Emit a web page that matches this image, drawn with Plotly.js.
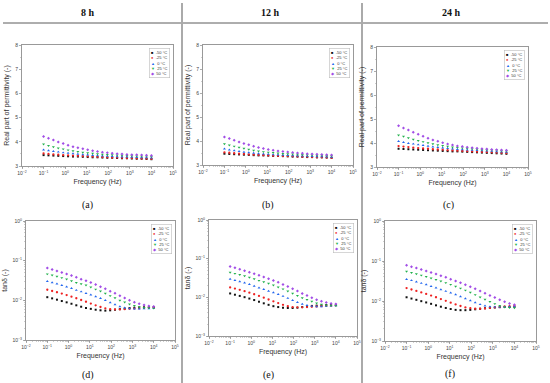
<!DOCTYPE html>
<html><head><meta charset="utf-8">
<script src="https://cdn.plot.ly/plotly-3.0.1.min.js"></script>
<style>html,body{margin:0;padding:0;background:#fff}#chart{width:550px;height:383px}</style>
</head><body><div id="chart"></div>
<script>
// ---------- DATA ----------
var freq = [0.1, 0.1687, 0.2848, 0.4806, 0.8111, 1.369, 2.310, 3.899, 6.579, 11.10, 18.74, 31.62, 53.37, 90.07, 152.0, 256.5, 432.9, 730.6, 1233, 2081, 3511, 5926, 10000];
var temps = ["-50 °C", "-25 °C", "0 °C", "25 °C", "50 °C"];
var headers = ["8 h", "12 h", "24 h"];
var panelLabels = ["(a)", "(b)", "(c)", "(d)", "(e)", "(f)"];
var xTickVals = [0.01, 0.1, 1, 10, 100, 1000, 10000, 100000];
var xTickText = ["10<sup>−2</sup>", "10<sup>−1</sup>", "10<sup>0</sup>", "10<sup>1</sup>", "10<sup>2</sup>", "10<sup>3</sup>", "10<sup>4</sup>", "10<sup>5</sup>"];
var tanTickVals = [0.001, 0.01, 0.1, 1];
var tanTickText = ["10<sup>−3</sup>", "10<sup>−2</sup>", "10<sup>−1</sup>", "10<sup>0</sup>"];

// Real part of permittivity, 8 h
var eps8_m50 = [3.45,3.44,3.43,3.42,3.41,3.40,3.39,3.39,3.38,3.37,3.36,3.36,3.35,3.34,3.34,3.33,3.32,3.32,3.31,3.30,3.30,3.29,3.28];
var eps8_m25 = [3.52,3.50,3.48,3.47,3.45,3.44,3.43,3.42,3.41,3.40,3.39,3.38,3.37,3.36,3.35,3.35,3.34,3.33,3.33,3.32,3.31,3.31,3.30];
var eps8_0   = [3.67,3.64,3.61,3.58,3.55,3.53,3.51,3.49,3.47,3.46,3.44,3.43,3.42,3.41,3.40,3.39,3.38,3.38,3.37,3.36,3.35,3.35,3.34];
var eps8_25  = [3.90,3.84,3.79,3.74,3.70,3.66,3.62,3.59,3.56,3.54,3.52,3.50,3.48,3.47,3.46,3.45,3.44,3.43,3.42,3.41,3.40,3.40,3.39];
var eps8_50  = [4.22,4.15,4.07,3.99,3.93,3.86,3.80,3.75,3.71,3.67,3.63,3.60,3.57,3.55,3.53,3.51,3.50,3.48,3.47,3.46,3.45,3.44,3.43];
// 12 h
var eps12_m50 = [3.47,3.46,3.45,3.44,3.43,3.42,3.41,3.40,3.40,3.39,3.38,3.37,3.37,3.36,3.35,3.35,3.34,3.33,3.33,3.32,3.32,3.31,3.30];
var eps12_m25 = [3.53,3.51,3.49,3.47,3.46,3.44,3.43,3.42,3.41,3.40,3.39,3.38,3.37,3.37,3.36,3.35,3.34,3.34,3.33,3.32,3.32,3.31,3.30];
var eps12_0   = [3.67,3.63,3.60,3.57,3.54,3.52,3.50,3.48,3.46,3.45,3.43,3.42,3.41,3.40,3.39,3.38,3.38,3.37,3.36,3.35,3.35,3.34,3.33];
var eps12_25  = [3.88,3.83,3.78,3.73,3.69,3.65,3.61,3.58,3.55,3.53,3.51,3.49,3.47,3.46,3.45,3.44,3.43,3.42,3.41,3.40,3.40,3.39,3.38];
var eps12_50  = [4.17,4.10,4.03,3.96,3.90,3.84,3.78,3.73,3.69,3.65,3.61,3.58,3.56,3.54,3.52,3.50,3.49,3.47,3.46,3.45,3.44,3.43,3.42];
// 24 h
var eps24_m50 = [3.76,3.75,3.74,3.73,3.72,3.71,3.70,3.69,3.68,3.67,3.66,3.65,3.65,3.64,3.63,3.62,3.61,3.60,3.59,3.58,3.57,3.56,3.55];
var eps24_m25 = [3.87,3.85,3.83,3.81,3.79,3.77,3.76,3.74,3.73,3.72,3.70,3.69,3.68,3.67,3.66,3.65,3.64,3.63,3.62,3.61,3.60,3.59,3.58];
var eps24_0   = [4.07,4.03,3.99,3.96,3.93,3.90,3.87,3.84,3.82,3.80,3.78,3.76,3.74,3.73,3.71,3.70,3.69,3.68,3.67,3.66,3.64,3.63,3.62];
var eps24_25  = [4.33,4.27,4.21,4.15,4.10,4.05,4.00,3.96,3.92,3.89,3.86,3.83,3.81,3.79,3.77,3.75,3.74,3.72,3.71,3.70,3.69,3.67,3.66];
var eps24_50  = [4.72,4.63,4.54,4.45,4.36,4.28,4.20,4.13,4.07,4.01,3.96,3.92,3.88,3.85,3.82,3.80,3.78,3.76,3.75,3.73,3.72,3.71,3.70];

// tan delta, 8 h
var tan8_m50 = [0.0120,0.0112,0.0104,0.0096,0.0089,0.0082,0.0075,0.0069,0.0064,0.0061,0.0058,0.0056,0.0055,0.0056,0.0058,0.0060,0.0062,0.0064,0.0065,0.0066,0.0067,0.0067,0.0068];
var tan8_m25 = [0.0185,0.0172,0.0160,0.0148,0.0136,0.0124,0.0113,0.0102,0.0092,0.0083,0.0075,0.0068,0.0063,0.0060,0.0059,0.0059,0.0060,0.0061,0.0062,0.0063,0.0064,0.0065,0.0066];
var tan8_0   = [0.0300,0.0280,0.0260,0.0240,0.0220,0.0200,0.0180,0.0165,0.0150,0.0138,0.0125,0.0112,0.0100,0.0088,0.0078,0.0070,0.0065,0.0062,0.0061,0.0061,0.0062,0.0062,0.0063];
var tan8_25  = [0.0460,0.0430,0.0400,0.0370,0.0340,0.0310,0.0280,0.0260,0.0240,0.0215,0.0190,0.0170,0.0150,0.0130,0.0115,0.0100,0.0090,0.0080,0.0073,0.0068,0.0065,0.0064,0.0063];
var tan8_50  = [0.0650,0.0600,0.0550,0.0500,0.0460,0.0420,0.0380,0.0340,0.0310,0.0280,0.0250,0.0220,0.0195,0.0170,0.0150,0.0130,0.0115,0.0100,0.0090,0.0082,0.0076,0.0072,0.0070];
// 12 h
var tan12_m50 = [0.0126,0.0117,0.0109,0.0101,0.0093,0.0085,0.0077,0.0070,0.0064,0.0059,0.0056,0.0054,0.0053,0.0053,0.0054,0.0056,0.0058,0.0060,0.0061,0.0062,0.0063,0.0063,0.0063];
var tan12_m25 = [0.0180,0.0168,0.0156,0.0144,0.0132,0.0120,0.0109,0.0098,0.0088,0.0079,0.0071,0.0064,0.0059,0.0056,0.0055,0.0055,0.0056,0.0057,0.0058,0.0059,0.0060,0.0061,0.0062];
var tan12_0   = [0.0296,0.0276,0.0256,0.0236,0.0216,0.0196,0.0177,0.0161,0.0146,0.0133,0.0120,0.0107,0.0095,0.0084,0.0074,0.0067,0.0062,0.0059,0.0058,0.0058,0.0059,0.0060,0.0061];
var tan12_25  = [0.0440,0.0412,0.0384,0.0356,0.0328,0.0300,0.0272,0.0250,0.0230,0.0207,0.0184,0.0164,0.0145,0.0126,0.0111,0.0097,0.0087,0.0078,0.0071,0.0066,0.0063,0.0062,0.0061];
var tan12_50  = [0.0630,0.0582,0.0535,0.0488,0.0448,0.0410,0.0372,0.0334,0.0304,0.0274,0.0245,0.0216,0.0190,0.0166,0.0146,0.0126,0.0111,0.0097,0.0087,0.0079,0.0073,0.0069,0.0067];
// 24 h
var tan24_m50 = [0.0124,0.0115,0.0107,0.0099,0.0092,0.0085,0.0078,0.0072,0.0067,0.0063,0.0060,0.0059,0.0059,0.0060,0.0062,0.0064,0.0066,0.0068,0.0069,0.0070,0.0071,0.0071,0.0072];
var tan24_m25 = [0.0210,0.0194,0.0179,0.0164,0.0150,0.0137,0.0124,0.0112,0.0101,0.0091,0.0082,0.0075,0.0069,0.0066,0.0064,0.0064,0.0065,0.0067,0.0069,0.0071,0.0073,0.0074,0.0075];
var tan24_0   = [0.0350,0.0326,0.0302,0.0279,0.0256,0.0234,0.0213,0.0194,0.0176,0.0160,0.0144,0.0129,0.0115,0.0102,0.0091,0.0082,0.0076,0.0072,0.0071,0.0071,0.0071,0.0072,0.0072];
var tan24_25  = [0.0550,0.0512,0.0475,0.0439,0.0405,0.0372,0.0340,0.0312,0.0285,0.0258,0.0232,0.0208,0.0185,0.0163,0.0143,0.0125,0.0110,0.0096,0.0085,0.0076,0.0070,0.0068,0.0067];
var tan24_50  = [0.0780,0.0720,0.0665,0.0612,0.0562,0.0515,0.0470,0.0428,0.0390,0.0352,0.0318,0.0286,0.0256,0.0228,0.0202,0.0178,0.0157,0.0138,0.0122,0.0108,0.0096,0.0087,0.0081];

// ---------- STYLE ----------
var colors = ["#111111", "#ee2222", "#2266ee", "#22b14c", "#a24ee6"];
var symbols = ["square", "circle", "triangle-up", "triangle-down", "diamond"];
var markerSizes = [2.0, 2.3, 2.6, 2.6, 2.3];
var W = 550, H = 383;
// plot boxes in pixels: [left, right, top, bottom]
var boxes = [
  [22, 173, 45, 166], [203, 353, 45, 165], [377, 528, 47, 167],
  [26, 175, 221, 340], [209, 357, 220, 336], [385, 536, 221, 341]
];
var panelData = [
  [eps8_m50, eps8_m25, eps8_0, eps8_25, eps8_50],
  [eps12_m50, eps12_m25, eps12_0, eps12_25, eps12_50],
  [eps24_m50, eps24_m25, eps24_0, eps24_25, eps24_50],
  [tan8_m50, tan8_m25, tan8_0, tan8_25, tan8_50],
  [tan12_m50, tan12_m25, tan12_0, tan12_25, tan12_50],
  [tan24_m50, tan24_m25, tan24_0, tan24_25, tan24_50]
];
var labelPos = [[87, 205], [268, 205], [448, 205], [88, 375], [268, 375], [450, 374]];
var headerPos = [[88, 12], [270, 12], [451, 12]];

var traces = [];
var layout = {
  width: W, height: H, margin: {l: 0, r: 0, t: 0, b: 0},
  paper_bgcolor: "#fff", plot_bgcolor: "#fff", showlegend: false,
  font: {family: "Liberation Sans, Arial, sans-serif", color: "#333"},
  annotations: [], shapes: []
};
var axFont = {family: "Liberation Sans, Arial, sans-serif", size: 5, color: "#444"};
var titleFont = {family: "Liberation Sans, Arial, sans-serif", size: 7, color: "#333"};

for (var p = 0; p < 6; p++) {
  var b = boxes[p];
  var xn = p === 0 ? "xaxis" : "xaxis" + (p + 1);
  var yn = p === 0 ? "yaxis" : "yaxis" + (p + 1);
  var xr = p === 0 ? "x" : "x" + (p + 1);
  var yr = p === 0 ? "y" : "y" + (p + 1);
  var isTan = p >= 3;
  for (var s = 0; s < 5; s++) {
    traces.push({
      x: freq, y: panelData[p][s], xaxis: xr, yaxis: yr, type: "scatter", mode: "markers",
      name: temps[s],
      marker: {color: colors[s], symbol: symbols[s], size: markerSizes[s], line: {width: 0}}
    });
  }
  var common = {
    showline: true, mirror: true, linecolor: "#999", linewidth: 1,
    showgrid: false, zeroline: false, ticks: "outside", ticklen: 2, tickwidth: 0.6, tickcolor: "#777",
    tickfont: axFont, ticklabelstandoff: 0
  };
  layout[xn] = Object.assign({}, common, {
    domain: [b[0] / W, b[1] / W], anchor: yr, type: "log", range: [-2, 5],
    tickmode: "array", tickvals: xTickVals, ticktext: xTickText,
    minor: {ticks: "outside", ticklen: 1, tickwidth: 0.4, tickcolor: "#888", dtick: "D1"},
    title: {text: "Frequency (Hz)", font: titleFont, standoff: 4}
  });
  if (isTan) {
    layout[yn] = Object.assign({}, common, {
      domain: [1 - b[3] / H, 1 - b[2] / H], anchor: xr, type: "log", range: [-3, 0],
      tickmode: "array", tickvals: tanTickVals, ticktext: tanTickText,
      minor: {ticks: "outside", ticklen: 1, tickwidth: 0.4, tickcolor: "#888", dtick: "D1"},
      title: {text: "tanδ (-)", font: titleFont, standoff: 3}
    });
  } else {
    layout[yn] = Object.assign({}, common, {
      domain: [1 - b[3] / H, 1 - b[2] / H], anchor: xr, range: [3, 8], dtick: 1,
      minor: {ticks: "outside", ticklen: 1, tickwidth: 0.4, tickcolor: "#888", dtick: 0.5},
      title: {text: "Real part of permittivity (-)", font: titleFont, standoff: 4}
    });
  }
  // legend box (annotation)
  var lines = [];
  for (var s2 = 0; s2 < 5; s2++) {
    var glyph = ["■", "●", "▲", "▼", "◆"][s2];
    lines.push('<span style="color:' + colors[s2] + '">' + glyph + '</span>  ' + temps[s2]);
  }
  layout.annotations.push({
    xref: "paper", yref: "paper", x: (b[1] - 3) / W, y: 1 - (b[2] + 3) / H,
    xanchor: "right", yanchor: "top", align: "left", showarrow: false,
    text: lines.join("<br>"), font: {family: "Liberation Sans, Arial, sans-serif", size: 4, color: "#333"},
    bordercolor: "#bbb", borderwidth: 0.6, borderpad: 1.5, bgcolor: "#fff"
  });
  // panel label
  layout.annotations.push({
    xref: "paper", yref: "paper", x: labelPos[p][0] / W, y: 1 - labelPos[p][1] / H,
    xanchor: "center", yanchor: "middle", showarrow: false, text: panelLabels[p],
    font: {family: "Liberation Serif, Times New Roman, serif", size: 10, color: "#111"}
  });
}
for (var h = 0; h < 3; h++) {
  layout.annotations.push({
    xref: "paper", yref: "paper", x: headerPos[h][0] / W, y: 1 - headerPos[h][1] / H,
    xanchor: "center", yanchor: "middle", showarrow: false, text: "<b>" + headers[h] + "</b>",
    font: {family: "Liberation Serif, Times New Roman, serif", size: 10, color: "#111"}
  });
}
layout.shapes.push({type: "line", xref: "paper", yref: "paper", x0: 3 / W, x1: 548 / W, y0: 1 - 23 / H, y1: 1 - 23 / H, line: {color: "#333", width: 0.8}});
layout.shapes.push({type: "line", xref: "paper", yref: "paper", x0: 182 / W, x1: 182 / W, y0: 0, y1: 1 - 3 / H, line: {color: "#aaa", width: 2}});
layout.shapes.push({type: "line", xref: "paper", yref: "paper", x0: 362 / W, x1: 362 / W, y0: 0, y1: 1 - 3 / H, line: {color: "#aaa", width: 2}});

Plotly.newPlot("chart", traces, layout, {staticPlot: true, displayModeBar: false});
</script></body></html>
